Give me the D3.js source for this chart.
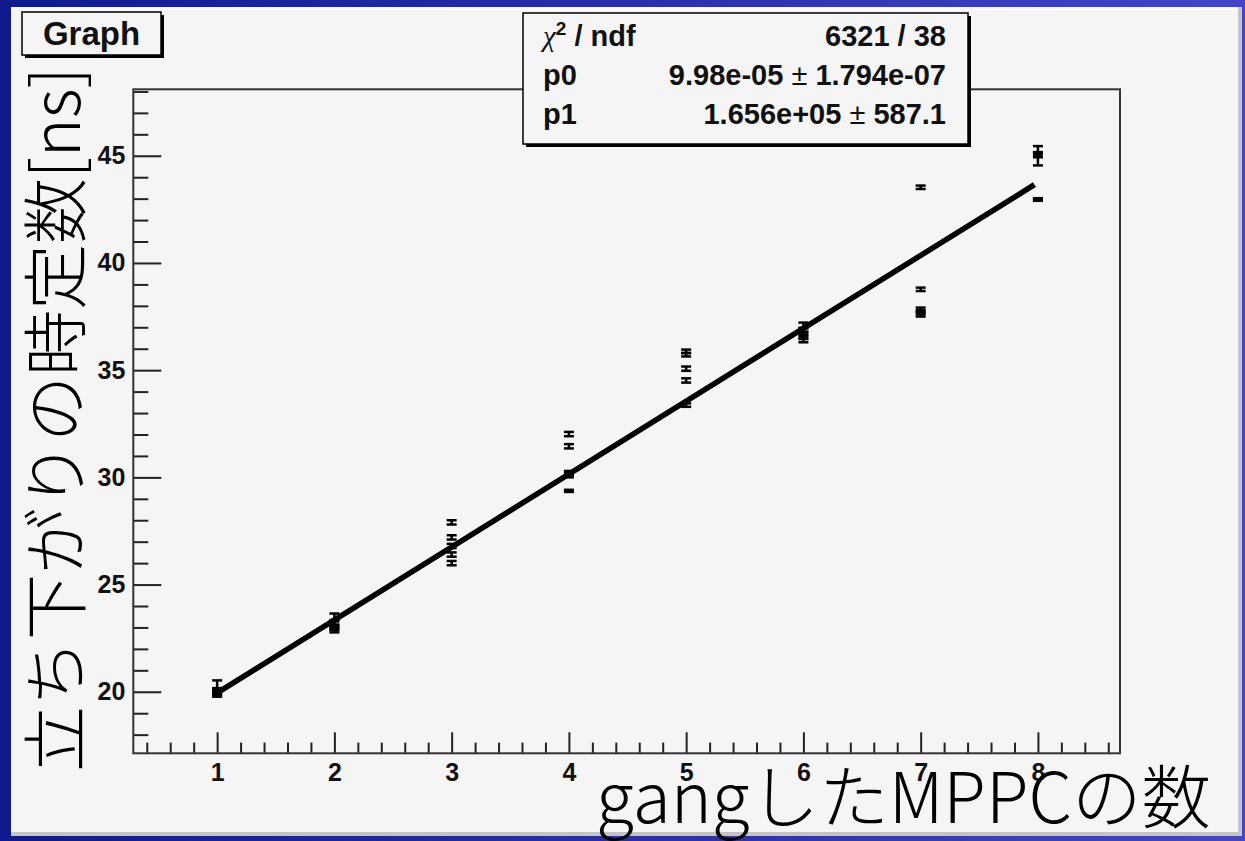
<!DOCTYPE html>
<html>
<head>
<meta charset="utf-8">
<script src="https://cdn.jsdelivr.net/npm/d3@7"></script>
<style>
  body { margin: 0; background: #1a1a90; }
  svg { display: block; }
</style>
</head>
<body>
<div id="chart"></div>
<script>
// number of ganged MPPCs (5 measurements each)
const nMPPC = [1, 1, 1, 1, 1, 2, 2, 2, 2, 2, 3, 3, 3, 3, 3, 4, 4, 4, 4, 4,
               5, 5, 5, 5, 5, 6, 6, 6, 6, 6, 7, 7, 7, 7, 7, 8, 8, 8, 8, 8];
// fall time constant [ns]
const tau = [20.35, 20.05, 19.95, 19.9, 19.85,
             23.5, 23.2, 23.05, 22.95, 22.85,
             27.9, 27.2, 26.8, 26.4, 26.0,
             32.02, 31.45, 30.2, 30.1, 29.37,
             35.88, 35.72, 35.07, 34.52, 33.37,
             37.1, 36.85, 36.7, 36.55, 36.4,
             43.53, 38.77, 37.82, 37.7, 37.6,
             45.3, 45.05, 44.8, 42.97, 42.95];
const tauErr = [0.18, 0.08, 0.08, 0.08, 0.08,
                0.15, 0.08, 0.08, 0.08, 0.08,
                0.1, 0.1, 0.1, 0.1, 0.1,
                0.1, 0.1, 0.1, 0.1, 0.05,
                0.08, 0.08, 0.1, 0.1, 0.08,
                0.12, 0.1, 0.1, 0.1, 0.1,
                0.08, 0.08, 0.1, 0.1, 0.1,
                0.15, 0.12, 0.25, 0.05, 0.05];
// linear fit drawn over the data
const fitX = [1, 7.97];
const fitY = [19.95, 43.65];

const xDomain = [0.285, 8.70];
const yDomain = [17.13, 48.1];
const xMajor = [1, 2, 3, 4, 5, 6, 7, 8];
const yMajor = [20, 25, 30, 35, 40, 45];

const statNames = ["p0", "p1"];
const statValues = [["9.98e-05", "1.794e-07"], ["1.656e+05", "587.1"]];
const chi2ndf = "6321 / 38";

const W = 1245, H = 841;
const rootFont = "'Liberation Sans', Arial, Helvetica, sans-serif";
const jpFont = "'Noto Sans CJK JP', 'Noto Sans', sans-serif";

const svg = d3.select("#chart").append("svg")
  .attr("width", W)
  .attr("height", H);

// blue slide frame
const grad = svg.append("defs").append("linearGradient")
  .attr("id", "blue")
  .attr("x1", "0%").attr("x2", "100%");
grad.append("stop").attr("offset", "0%").attr("stop-color", "#0f1a8c");
grad.append("stop").attr("offset", "100%").attr("stop-color", "#4545c6");

svg.append("rect").attr("width", W).attr("height", H).attr("fill", "url(#blue)");
svg.append("rect")
  .attr("x", 11).attr("y", 7)
  .attr("width", 1231).attr("height", 829)
  .attr("fill", "#c4c4c4");
svg.append("rect")
  .attr("x", 11).attr("y", 7)
  .attr("width", 1227).attr("height", 825)
  .attr("fill", "#ffffff");
svg.append("rect")
  .attr("x", 11).attr("y", 10)
  .attr("width", 1227).attr("height", 822)
  .attr("fill", "#f5f5f5");

// plot frame
const frame = {left: 133.3, right: 1120, top: 89.3, bottom: 753.3};

const x = d3.scaleLinear().domain(xDomain).range([frame.left, frame.right]);
const y = d3.scaleLinear().domain(yDomain).range([frame.bottom, frame.top]);

const xMinor = d3.range(Math.ceil(xDomain[0] * 5), Math.floor(xDomain[1] * 5) + 1)
  .map(d => d / 5).filter(d => Math.abs(d - Math.round(d)) > 1e-6);
const yMinor = d3.range(Math.ceil(yDomain[0]), Math.floor(yDomain[1]) + 1)
  .filter(d => d % 5 !== 0);

function styleAxis(g) {
  g.select(".domain").remove();
  g.selectAll("line").attr("stroke", "#222").attr("stroke-width", 2);
  g.selectAll("text")
    .attr("fill", "#111")
    .style("font-family", rootFont)
    .style("font-weight", "bold")
    .style("font-size", "25px");
}

svg.append("g")
  .attr("transform", `translate(0,${frame.bottom})`)
  .call(d3.axisBottom(x).tickValues(xMinor).tickSizeInner(-10.7).tickSizeOuter(0).tickFormat(""))
  .call(styleAxis);
svg.append("g")
  .attr("transform", `translate(0,${frame.bottom})`)
  .call(d3.axisBottom(x).tickValues(xMajor).tickSizeInner(-21).tickSizeOuter(0).tickPadding(10).tickFormat(d3.format("d")))
  .call(styleAxis);

svg.append("g")
  .attr("transform", `translate(${frame.left},0)`)
  .call(d3.axisLeft(y).tickValues(yMinor).tickSizeInner(-15).tickSizeOuter(0).tickFormat(""))
  .call(styleAxis);
svg.append("g")
  .attr("transform", `translate(${frame.left},0)`)
  .call(d3.axisLeft(y).tickValues(yMajor).tickSizeInner(-28).tickSizeOuter(0).tickPadding(8).tickFormat(d3.format("d")))
  .call(styleAxis);

svg.append("rect")
  .attr("x", frame.left).attr("y", frame.top)
  .attr("width", frame.right - frame.left)
  .attr("height", frame.bottom - frame.top)
  .attr("fill", "none")
  .attr("stroke", "#333")
  .attr("stroke-width", 2);

// error bars
const points = nMPPC.map((n, i) => ({n: n, v: tau[i], e: tauErr[i]}));
const bars = svg.append("g").attr("stroke", "#000").attr("stroke-width", 2.5);
points.forEach(p => {
  const cx = x(p.n);
  bars.append("line")
    .attr("x1", cx).attr("x2", cx)
    .attr("y1", y(p.v - p.e)).attr("y2", y(p.v + p.e));
  [p.v - p.e, p.v + p.e].forEach(v => {
    bars.append("line")
      .attr("x1", cx - 5).attr("x2", cx + 5)
      .attr("y1", y(v)).attr("y2", y(v));
  });
});

// fit line
svg.append("path")
  .datum(fitX.map((d, i) => [d, fitY[i]]))
  .attr("d", d3.line().x(d => x(d[0])).y(d => y(d[1])))
  .attr("fill", "none")
  .attr("stroke", "#000")
  .attr("stroke-width", 5.5);

// title box
function shadowBox(bx, by, bw, bh) {
  svg.append("rect")
    .attr("x", bx + 3).attr("y", by + 3)
    .attr("width", bw).attr("height", bh)
    .attr("fill", "#000");
  svg.append("rect")
    .attr("x", bx).attr("y", by)
    .attr("width", bw).attr("height", bh)
    .attr("fill", "#f5f5f5")
    .attr("stroke", "#000")
    .attr("stroke-width", 1.5);
}

shadowBox(22, 12, 139, 43);
svg.append("text")
  .attr("x", 91.5).attr("y", 45)
  .attr("text-anchor", "middle")
  .style("font-family", rootFont)
  .style("font-weight", "bold")
  .style("font-size", "33px")
  .attr("fill", "#111")
  .text("Graph");

// stats box
shadowBox(523, 13, 445, 131);
const stats = svg.append("g")
  .style("font-family", rootFont)
  .style("font-size", "29px")
  .attr("fill", "#111");

const chiLabel = stats.append("text").attr("x", 543).attr("y", 46);
chiLabel.append("tspan")
  .style("font-family", "'Liberation Serif', 'DejaVu Serif', serif")
  .style("font-style", "italic")
  .text("χ");
chiLabel.append("tspan")
  .attr("dy", -11).style("font-size", "19px").style("font-weight", "bold")
  .text("2");
chiLabel.append("tspan")
  .attr("dy", 11).style("font-weight", "bold")
  .text(" / ndf");
stats.append("text")
  .attr("x", 946).attr("y", 46)
  .attr("text-anchor", "end")
  .style("font-weight", "bold")
  .text(chi2ndf);

statNames.forEach((name, i) => {
  const by = 85 + i * 39;
  stats.append("text")
    .attr("x", 543).attr("y", by)
    .style("font-weight", "bold")
    .text(name);
  const t = stats.append("text")
    .attr("x", 946).attr("y", by)
    .attr("text-anchor", "end");
  t.append("tspan").style("font-weight", "bold").text(statValues[i][0]);
  t.append("tspan").style("font-weight", "normal").text(" \u00b1 ");
  t.append("tspan").style("font-weight", "bold").text(statValues[i][1]);
});

// axis titles
svg.append("text")
  .attr("transform", "translate(80,772) rotate(-90)")
  .style("font-family", jpFont)
  .style("font-weight", 300)
  .style("font-size", "66px")
  .attr("fill", "#000")
  .text("立ち下がりの時定数[ns]");

svg.append("text")
  .attr("x", 596).attr("y", 823)
  .style("font-family", jpFont)
  .style("font-weight", 300)
  .style("font-size", "69.5px")
  .attr("fill", "#000")
  .text("gangしたMPPCの数");
</script>
</body>
</html>
